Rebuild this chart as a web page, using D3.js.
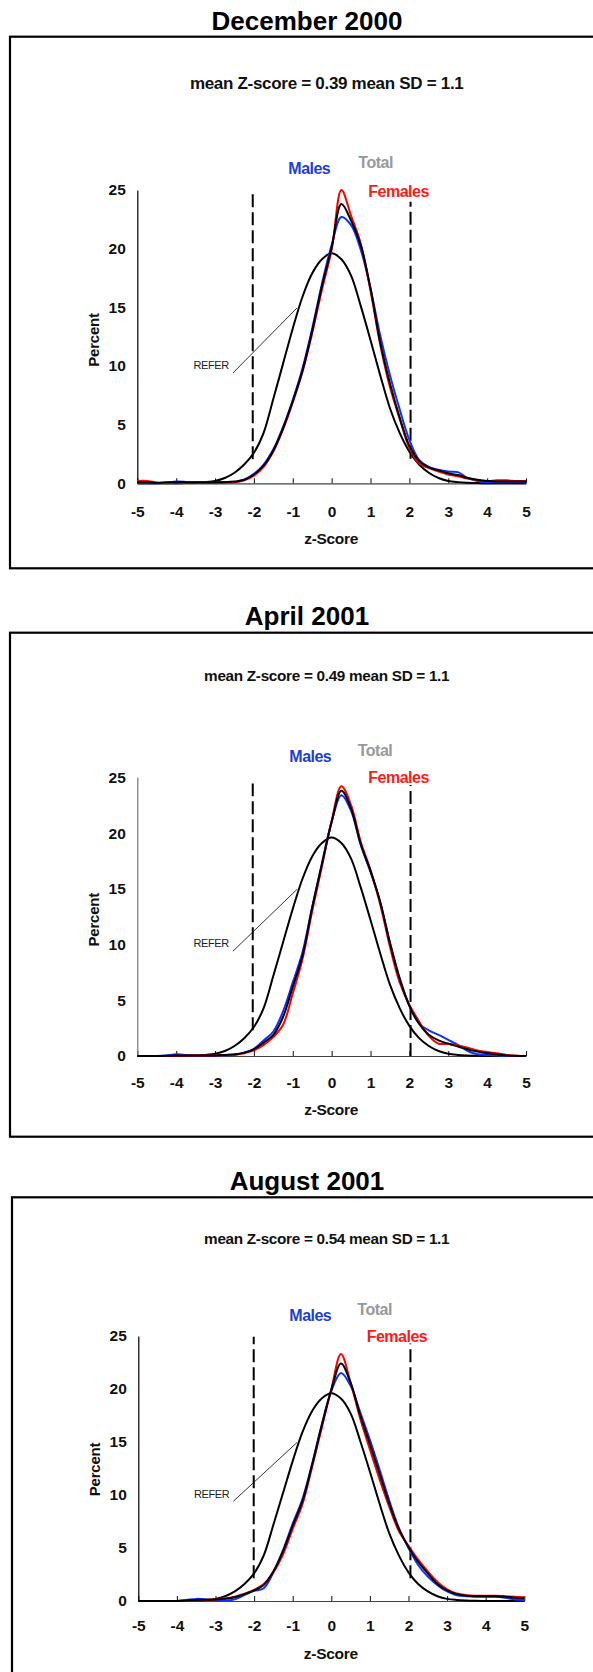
<!DOCTYPE html>
<html>
<head>
<meta charset="utf-8">
<script src="https://cdn.jsdelivr.net/npm/d3@7"></script>
<style>
  html, body { margin: 0; padding: 0; background: #fff; }
  svg { display: block; font-family: "Liberation Sans", Arial, sans-serif; }
</style>
</head>
<body>
<svg id="chart" width="593" height="1672"></svg>
<script>
// ---------- DATA ----------
const zGrid = [-5,-4.75,-4.5,-4.25,-4,-3.75,-3.5,-3.25,-3,-2.75,-2.5,-2.25,-2,-1.75,-1.5,-1.25,-1,-0.75,-0.5,-0.25,0,0.25,0.5,0.75,1,1.25,1.5,1.75,2,2.25,2.5,2.75,3,3.25,3.5,3.75,4,4.25,4.5,4.75,5];
const xTicks = [-5,-4,-3,-2,-1,0,1,2,3,4,5];
const yTicks = [0,5,10,15,20,25];

const refPct = [0,0,0,0,0.01,0.02,0.05,0.1,0.2,0.45,0.9,1.6,2.6,4.3,7.2,10.2,13.2,15.9,17.9,19.1,19.6,19.1,17.7,15.1,12.2,9.2,6.4,4.3,2.7,1.6,0.9,0.45,0.2,0.1,0.05,0.02,0,0,0,0,0];

const dec2000Total   = [0.1,0.08,0.05,0.08,0.1,0.1,0.1,0.1,0.1,0.1,0.15,0.3,0.75,1.5,2.8,4.7,7.0,9.6,13.0,16.8,20.1,23.8,22.4,20.3,16.6,12.0,8.5,5.6,3.2,1.9,1.35,1.1,0.85,0.7,0.45,0.3,0.2,0.15,0.15,0.15,0.15];
const dec2000Males   = [0.02,0,0,0.05,0.15,0.12,0.05,0.02,0.05,0.08,0.1,0.3,0.8,1.6,2.9,4.8,7.1,9.8,13.2,17.0,20.3,22.7,22.0,19.9,16.6,12.6,9.2,6.3,3.7,2.0,1.4,1.15,1.0,0.95,0.45,0.2,0.1,0.1,0.1,0.1,0.1];
const dec2000Females = [0.2,0.2,0.05,0.02,0.05,0.05,0.1,0.1,0.1,0.1,0.1,0.25,0.65,1.4,2.7,4.6,6.9,9.5,12.8,16.5,19.9,25.0,22.8,20.4,16.4,11.8,8.2,5.5,3.0,1.7,1.3,1.0,0.75,0.6,0.4,0.25,0.2,0.25,0.25,0.2,0.2];

const apr2001Total   = [0,0,0,0.02,0.05,0.05,0.05,0.05,0.05,0.1,0.15,0.3,0.6,1.2,1.9,3.5,6.2,9.0,13.3,17.2,21.0,23.8,22.2,19.0,16.6,13.8,10.1,6.9,4.5,2.9,1.9,1.4,1.1,0.85,0.6,0.4,0.25,0.15,0.05,0.02,0];
const apr2001Males   = [0,0,0,0.05,0.15,0.1,0.03,0.02,0.03,0.05,0.1,0.3,0.65,1.4,2.2,4.0,6.6,9.3,13.4,17.3,21.0,23.4,22.0,18.9,16.5,13.8,10.2,7.0,4.5,2.9,2.3,1.9,1.45,1.0,0.45,0.15,0.1,0.05,0,0,0];
const apr2001Females = [0,0,0,0,0.02,0.03,0.05,0.05,0.05,0.08,0.1,0.25,0.5,1.0,1.7,2.8,5.6,8.7,13.0,17.0,21.1,24.2,22.5,19.2,16.7,13.6,9.8,6.6,4.6,3.1,1.8,1.1,1.1,0.95,0.75,0.5,0.35,0.25,0.1,0.02,0];

const aug2001Total   = [0,0,0,0,0,0.05,0.1,0.12,0.15,0.2,0.35,0.65,1.0,1.5,2.8,4.7,7.1,9.4,12.8,16.5,19.9,22.4,20.6,17.5,14.8,12.0,9.2,6.8,5.1,3.7,2.6,1.6,1.0,0.65,0.5,0.45,0.45,0.45,0.4,0.3,0.25];
const aug2001Males   = [0,0,0,0,0,0.1,0.2,0.15,0.05,0.02,0.15,0.55,0.95,1.2,2.7,4.8,7.3,9.6,12.9,16.6,19.8,21.5,20.3,17.8,15.2,12.4,9.5,6.9,5.0,3.4,2.3,1.5,0.9,0.55,0.45,0.4,0.4,0.4,0.3,0.15,0.1];
const aug2001Females = [0,0,0,0,0,0.02,0.05,0.1,0.15,0.25,0.4,0.7,1.05,1.6,2.7,4.4,6.8,9.1,12.6,16.3,20.0,23.3,20.6,17.2,14.3,11.5,8.9,6.6,5.2,3.9,2.8,1.8,1.1,0.7,0.55,0.5,0.5,0.5,0.45,0.4,0.35];

const panelTitles = ["December 2000", "April 2001", "August 2001"];
const meanTexts = ["mean Z-score = 0.39 mean SD = 1.1", "mean Z-score = 0.49 mean SD = 1.1", "mean Z-score = 0.54 mean SD = 1.1"];
const seriesNames = ["Males", "Total", "Females"];
const referText = "REFER";
const xTitle = "z-Score";
const yTitle = "Percent";

// ---------- LAYOUT ----------
const panels = [
  { data: [dec2000Males, dec2000Females, dec2000Total],
    frame: {x: 10, y: 36.7, b: 568.3}, titleY: 30, subY: 89.3, subSize: 17,
    px0: 137.3, px1: 526, py0: 483.3, py25: 190, xLabY: 517.3, xTitleY: 544, yTitleX: 99, yTitleY: 340,
    lab: [[288.3,174],[358.3,167.7],[368.3,196.7]],
    dash: [[-2.03, 2.05, 25], [2.03, 2.1, 24.0]], yAxisCol: "#000" },
  { data: [apr2001Males, apr2001Females, apr2001Total],
    frame: {x: 10, y: 632.7, b: 1136.7}, titleY: 625, subY: 680.5, subSize: 15.3,
    px0: 137.3, px1: 526, py0: 1056, py25: 777.3, xLabY: 1088.3, xTitleY: 1115, yTitleX: 99, yTitleY: 919.7,
    lab: [[289.3,761.7],[357.7,755.7],[368.3,783.3]],
    dash: [[-2.03, 2.3, 24.45], [2.03, 0, 24.3]], yAxisCol: "#777" },
  { data: [aug2001Males, aug2001Females, aug2001Total],
    frame: {x: 12, y: 1197.3, b: 1690}, titleY: 1190, subY: 1243.8, subSize: 15.3,
    px0: 138.3, px1: 524.3, py0: 1601, py25: 1336, xLabY: 1631, xTitleY: 1659.3, yTitleX: 99.5, yTitleY: 1469.5,
    lab: [[289.3,1321],[357.3,1315.3],[366.7,1341.7]],
    dash: [[-2.01, 2.14, 24.93], [2.05, 2.14, 24.3]], yAxisCol: "#000" }
];
const seriesColors = ["#1030ff", "#ff0000", "#000000"];
const labelColors = ["#1e3fd0", "#999999", "#ff1a1a"];

const svg = d3.select("#chart");

panels.forEach((p, i) => {
  const g = svg.append("g");
  const x = d3.scaleLinear().domain([-5, 5]).range([p.px0, p.px1]);
  const y = d3.scaleLinear().domain([0, 25]).range([p.py0, p.py25]);

  g.append("rect").attr("x", p.frame.x).attr("y", p.frame.y)
    .attr("width", 640).attr("height", p.frame.b - p.frame.y)
    .attr("fill", "none").attr("stroke", "#000").attr("stroke-width", 2.2);

  g.append("text").attr("x", 307).attr("y", p.titleY).attr("text-anchor", "middle")
    .attr("font-size", 26).attr("font-weight", "bold").attr("fill", "#000").text(panelTitles[i]);

  g.append("text").attr("x", 326.7).attr("y", p.subY).attr("text-anchor", "middle")
    .attr("font-size", p.subSize).attr("font-weight", "bold").attr("letter-spacing", -0.3)
    .attr("fill", "#111").text(meanTexts[i]);

  const fsTick = 15.5;
  const xAxis = d3.axisBottom(x).tickValues(xTicks).tickFormat(d => String(d))
    .tickSizeInner(-5).tickSizeOuter(0).tickPadding(p.xLabY - p.py0 - 0.71 * fsTick);
  const gx = g.append("g").attr("transform", `translate(0,${p.py0})`).call(xAxis);
  gx.select(".domain").attr("stroke", "#444").attr("stroke-width", 1.2);
  gx.selectAll(".tick line").attr("stroke", "#222").attr("stroke-width", 1.1);
  gx.selectAll(".tick text").attr("font-size", fsTick).attr("font-weight", "bold")
    .attr("font-family", "Liberation Sans, Arial, sans-serif").attr("fill", "#111");

  const yAxis = d3.axisLeft(y).tickValues(yTicks).tickFormat(d => String(d))
    .tickSize(0).tickPadding(11.5);
  const gy = g.append("g").attr("transform", `translate(${p.px0},0)`).call(yAxis);
  gy.select(".domain").attr("stroke", p.yAxisCol).attr("stroke-width", 1.2);
  gy.selectAll(".tick text").attr("font-size", fsTick).attr("font-weight", "bold")
    .attr("font-family", "Liberation Sans, Arial, sans-serif").attr("fill", "#111");

  g.append("text").attr("x", (p.px0 + p.px1) / 2 - 0.5).attr("y", p.xTitleY).attr("text-anchor", "middle")
    .attr("font-size", 15.5).attr("font-weight", "bold").attr("letter-spacing", -0.3).attr("fill", "#111").text(xTitle);
  g.append("text").attr("transform", `translate(${p.yTitleX},${p.yTitleY}) rotate(-90)`)
    .attr("text-anchor", "middle").attr("font-size", 15).attr("font-weight", "bold")
    .attr("letter-spacing", -0.2).attr("fill", "#111").text(yTitle);

  p.dash.forEach(d => {
    g.append("line").attr("x1", x(d[0])).attr("x2", x(d[0]))
      .attr("y1", y(d[1])).attr("y2", y(d[2]))
      .attr("stroke", "#000").attr("stroke-width", 2).attr("stroke-dasharray", "13,5");
  });

  const line = d3.line().x((d, k) => x(zGrid[k])).y(d => Math.min(y(0), y(d)))
    .curve(d3.curveCatmullRom.alpha(0.5));

  g.append("path").datum(refPct).attr("d", line)
    .attr("fill", "none").attr("stroke", "#000").attr("stroke-width", 2);

  p.data.forEach((arr, k) => {
    g.append("path").datum(arr).attr("d", line)
      .attr("fill", "none").attr("stroke", seriesColors[k]).attr("stroke-width", 2);
  });

  g.append("line").attr("x1", x(-2.54)).attr("y1", y(9.4)).attr("x2", x(-0.89)).attr("y2", y(14.95))
    .attr("stroke", "#000").attr("stroke-width", 0.8);
  g.append("text").attr("x", x(-3.1)).attr("y", y(10.1) + 4).attr("text-anchor", "middle")
    .attr("font-size", 11).attr("letter-spacing", -0.4).attr("fill", "#222").text(referText);

  seriesNames.forEach((name, k) => {
    g.append("text").attr("x", p.lab[k][0]).attr("y", p.lab[k][1])
      .attr("font-size", 16).attr("font-weight", "bold").attr("letter-spacing", -0.5)
      .attr("fill", labelColors[k]).text(name);
  });
});
</script>
</body>
</html>
